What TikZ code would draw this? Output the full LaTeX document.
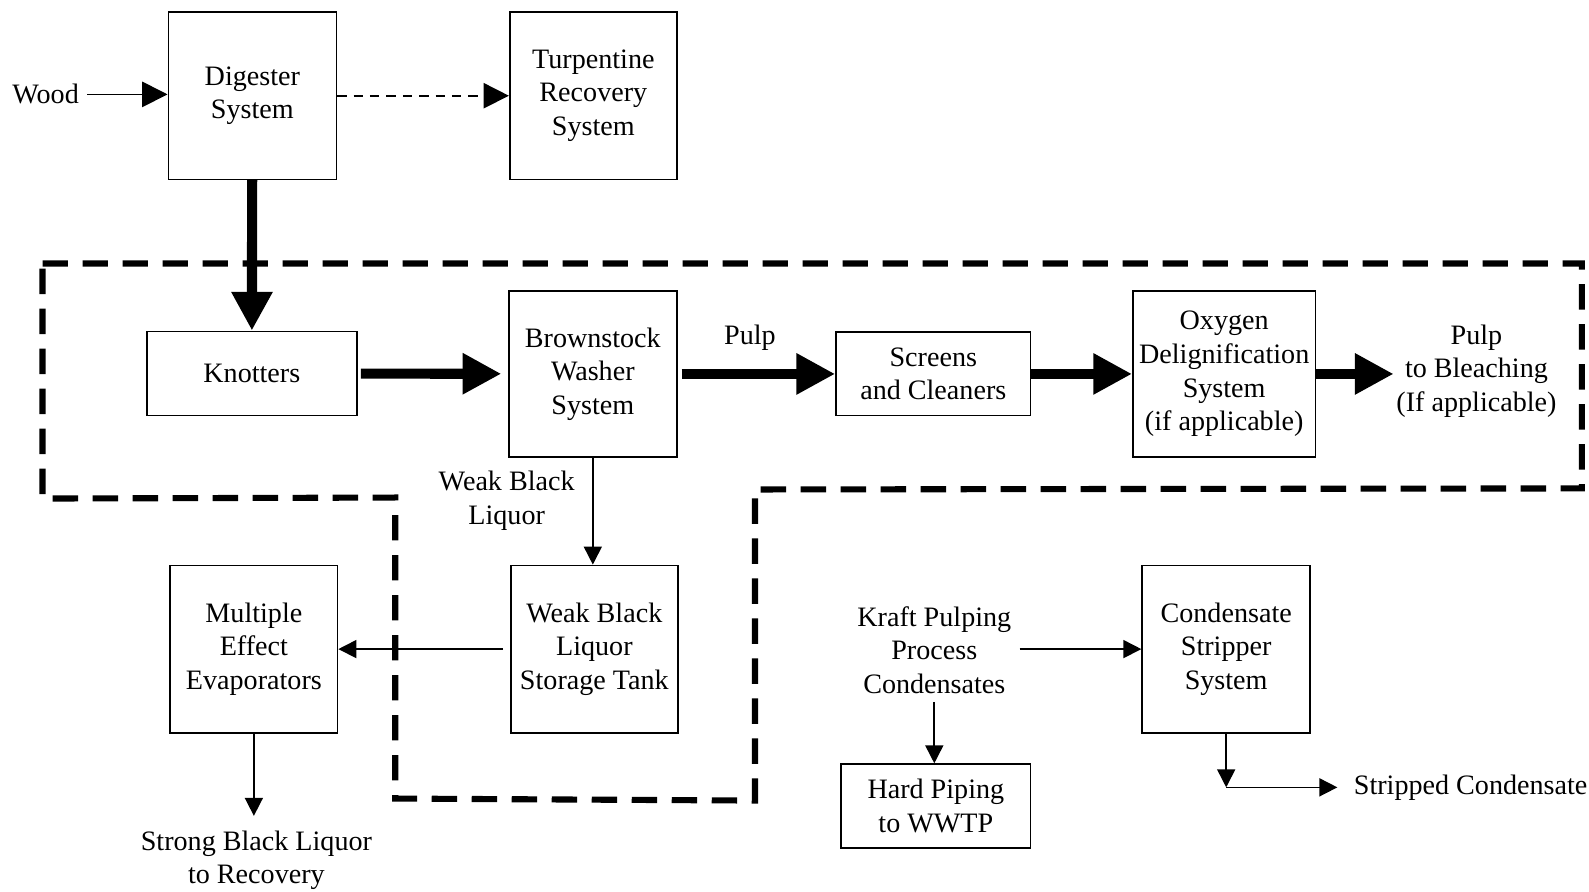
\documentclass[tikz,border=0pt]{standalone}
\usepackage{fontspec}
\setmainfont{Liberation Serif}
\usetikzlibrary{arrows.meta}
\tikzset{
	unit/.style={draw, line width=0.7pt, align=center, inner sep=0pt, minimum width=2.52cm, minimum height=2.51cm},
	txt/.style={align=center},
	flow/.style={line width=0.152cm, -{Triangle[length=0.58cm,width=0.58cm]}},
	feed/.style={line width=0.7pt, -{Triangle[length=0.38cm,width=0.38cm]}},
	pipe/.style={line width=0.7pt, -{Triangle[length=0.27cm,width=0.27cm]}},
	border/.style={line width=2.6pt, dash pattern=on 0.38cm off 0.22cm}
}

\begin{document}
\begin{tikzpicture}[font=\fontsize{12}{14.3}\selectfont]
			%%%%% START %%%%%
			\useasboundingbox (0, 0) rectangle (23.834, 13.376);
			
			\draw[border] (0.638, 9.424) -- (23.727, 9.424) -- (23.727, 6.050) -- (11.324, 6.034) -- (11.324, 1.368) -- (5.928, 1.398) -- (5.928, 5.913) -- (0.638, 5.898) -- cycle;
			
			\node[txt] (wood) at (0.684, 11.960) {Wood};
			\node[unit] (dig) at (3.785, 11.940) {Digester\\System};
			\node[unit, minimum width=2.51cm] (turp) at (8.900, 11.940) {Turpentine\\Recovery\\System};
			
			\node[unit, minimum width=3.15cm, minimum height=1.26cm] (knot) at (3.777, 7.775) {Knotters};
			\node[unit, minimum height=2.49cm] (brown) at (8.892, 7.767) {Brownstock\\Washer\\System};
			\node[txt] (pulp) at (11.248, 8.314) {Pulp};
			\node[unit, minimum width=2.92cm, minimum height=1.25cm] (screen) at (13.999, 7.767) {Screens\\and Cleaners};
			\node[unit, minimum width=2.74cm, minimum height=2.49cm] (oxy) at (18.362, 7.767) {Oxygen\\Delignification\\System\\(if applicable)};
			\node[txt, inner sep=1pt] (bleach) at (22.146, 7.813) {Pulp\\to Bleaching\\(If applicable)};
			
			\node[txt] (weak) at (7.600, 5.867) {Weak Black\\Liquor};
			\node[unit, minimum width=2.51cm] (tank) at (8.915, 3.640) {Weak Black\\Liquor\\Storage Tank};
			\node[unit, minimum width=2.51cm] (evap) at (3.808, 3.640) {Multiple\\Effect\\Evaporators};
			\node[txt] (strong) at (3.846, 0.471) {Strong Black Liquor\\to Recovery};
			
			\node[txt] (kraft) at (14.014, 3.625) {Kraft Pulping\\Process\\Condensates};
			\node[unit] (cond) at (18.392, 3.640) {Condensate\\Stripper\\System};
			\node[unit, minimum width=2.84cm, minimum height=1.26cm] (hard) at (14.037, 1.284) {Hard Piping\\to WWTP};
			\node[txt, anchor=west, inner sep=0pt] (strip) at (20.300, 1.566) {Stripped Condensate};
			\coordinate (bend) at (18.392, 1.566);
			
			\draw[feed] (wood.east) -- (wood.east -| dig.west);
			\draw[feed, dash pattern=on 4pt off 3pt] (dig) -- (turp);
			\draw[flow] (dig) -- (knot);
			\draw[flow, shorten <=0.05cm, shorten >=0.1cm] (knot) -- (brown);
			\draw[flow, shorten <=0.06cm] (brown) -- (screen);
			\draw[flow] (screen) -- (oxy);
			\draw[flow] (oxy.east) -- (oxy.east -| bleach.west);
			
			\draw[pipe] (brown.south) -- (brown.south |- tank.north);
			\draw[pipe, shorten <=0.1cm] (tank) -- (evap);
			\draw[pipe, shorten >=0.1cm] (evap.south) -- (evap.south |- strong.north);
			\draw[pipe] (kraft.east |- cond.west) -- (cond.west);
			\draw[pipe] (kraft) -- (kraft.south |- hard.north);
			\draw[pipe] (cond) -- (bend);
			\draw[pipe, shorten >=0.24cm] (bend) -- (strip);
			
			%%%%% END %%%%%
		\end{tikzpicture}
\end{document}
